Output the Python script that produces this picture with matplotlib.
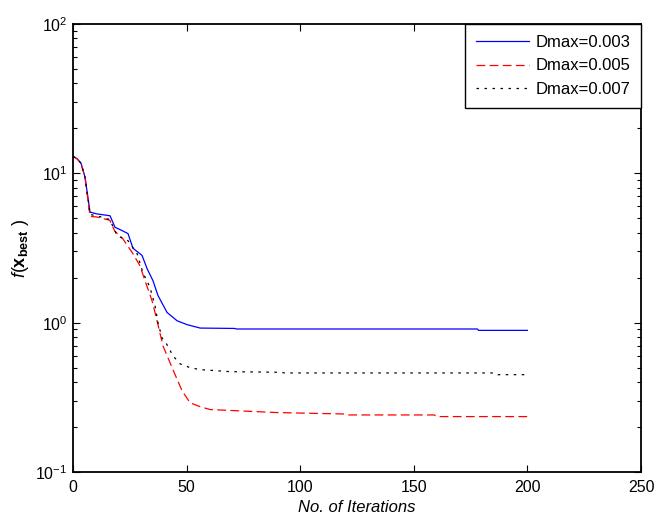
import matplotlib
matplotlib.use("Agg")
import matplotlib.pyplot as plt
from matplotlib.ticker import LogLocator, NullFormatter

plt.rcParams['font.family'] = ['Liberation Sans', 'DejaVu Sans']
plt.rcParams['mathtext.fontset'] = 'custom'
plt.rcParams['mathtext.rm'] = 'Liberation Sans'
plt.rcParams['mathtext.it'] = 'Liberation Sans:italic'
plt.rcParams['mathtext.bf'] = 'Liberation Sans:bold'

# Dmax = 0.003 (blue)
it_a = [0, 1.8, 3.5, 5.3, 7.5, 10.5, 16.3, 18.5, 20.7, 24.2, 26.4, 30.4, 32.6, 35.2, 37.4,
        41.4, 45.8, 50.2, 56, 71, 72, 178, 178.5, 200]
f_a = [13.0, 12.5, 11.7, 9.4, 5.5, 5.35, 5.2, 4.35, 4.2, 3.95, 3.15, 2.82, 2.30, 1.91, 1.52,
       1.17, 1.03, 0.97, 0.92, 0.915, 0.907, 0.907, 0.888, 0.888]

# Dmax = 0.005 (red dashed)
it_b = [0, 1.8, 3.5, 5.3, 7.5, 10.5, 16.2, 18.4, 21.9, 26, 29.5, 31.7, 34.8, 37, 39.6, 43.6,
        48, 51.5, 55.9, 60.3, 90, 120, 121, 159, 160, 200]
f_b = [13.0, 12.5, 11.7, 9.4, 5.15, 5.1, 4.85, 4.1, 3.65, 2.96, 2.4, 1.91, 1.40, 1.03, 0.70, 0.50,
       0.35, 0.291, 0.274, 0.262, 0.25, 0.2445, 0.241, 0.241, 0.235, 0.235]

# Dmax = 0.007 (black dotted)
it_c = [0, 1.8, 3.5, 5.3, 7.5, 10.5, 16.2, 19.4, 24.2, 28.2, 30.8, 33.9, 36.1, 37.4, 39.2, 41.2,
        44, 47.1, 51.5, 55.9, 69, 92, 93, 186, 187, 200]
f_c = [13.0, 12.5, 11.7, 9.4, 5.3, 5.2, 4.9, 3.83, 3.54, 2.9, 2.16, 1.72, 1.30, 1.0, 0.79, 0.72,
       0.60, 0.53, 0.50, 0.485, 0.47, 0.465, 0.4605, 0.4605, 0.4485, 0.4485]

labels = ['Dmax=0.003', 'Dmax=0.005', 'Dmax=0.007']
x_ticks = [0, 50, 100, 150, 200, 250]

fig = plt.figure(figsize=(6.55, 5.2), dpi=100)
ax = fig.add_axes([73/655, 48/520, (641-73)/655, (472-24)/520])

ax.plot(it_a, f_a, color='blue', lw=0.9, ls='-', label=labels[0])
ax.plot(it_b, f_b, color='red', lw=0.9, ls=(0, (7, 3.5)), label=labels[1])
ax.plot(it_c, f_c, color='black', lw=0.9, ls=(0, (2, 4.4)), label=labels[2])

ax.set_yscale('log')
ax.set_xlim(0, 250)
ax.set_ylim(0.1, 100)
ax.set_xticks(x_ticks)
ax.yaxis.set_major_locator(LogLocator(base=10, numticks=10))
ax.yaxis.set_minor_locator(LogLocator(base=10, subs=range(2, 10), numticks=20))
ax.yaxis.set_minor_formatter(NullFormatter())
ax.tick_params(which='both', direction='in', top=True, right=True, labelsize=11.5)
ax.tick_params(which='major', length=5, width=0.8)
ax.tick_params(which='minor', length=3, width=0.8)
ax.tick_params(axis='x', pad=6)
ax.tick_params(axis='y', pad=4)
for s in ax.spines.values():
    s.set_linewidth(1.3)

ax.set_xlabel('No. of Iterations', fontsize=12, style='italic', labelpad=3)
ax.set_ylabel(r'$f(\mathbf{x}_{\mathbf{best}}\ )$', fontsize=13, labelpad=3)

leg = ax.legend(loc='upper right', fontsize=12,
                frameon=True, fancybox=False, edgecolor='black', framealpha=1,
                handlelength=3.2, borderaxespad=0, labelspacing=0.52, borderpad=0.65,
                handletextpad=0.35)
leg.get_frame().set_linewidth(1.0)

fig.savefig('out.png', dpi=100)
